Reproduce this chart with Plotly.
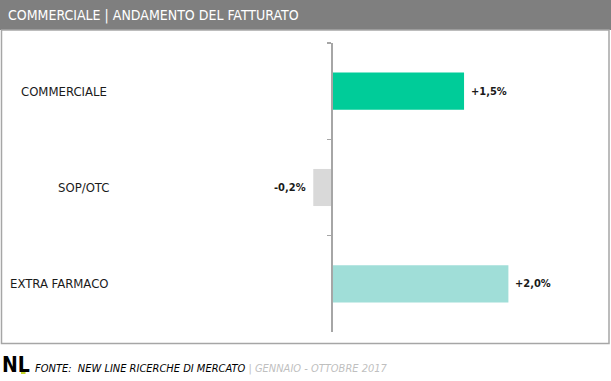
import plotly.graph_objects as go

categories = ["COMMERCIALE", "SOP/OTC", "EXTRA FARMACO"]
values = [1.5, -0.2, 2.0]
value_labels = ["+1,5%", "-0,2%", "+2,0%"]
title_text = "COMMERCIALE | ANDAMENTO DEL FATTURATO"
source_text = "FONTE:&nbsp; NEW LINE RICERCHE DI MERCATO"
period_text = "| GENNAIO - OTTOBRE 2017"

bar_colors = ["#00CC99", "#D9D9D9", "#A0DED8"]
label_left_px = [19, 56, 8]

W, H = 611, 381
FONT = "Liberation Sans Narrow, DejaVu Sans Condensed, Liberation Sans, sans-serif"


def px(x):
    return x / W


def py(y):
    return 1 - y / H


axis_px = 331
scale = 88.7  # px per unit
x_min = -axis_px / scale
x_max = (W - axis_px) / scale

fig = go.Figure()
fig.add_trace(go.Bar(
    y=categories, x=values, orientation="h",
    marker=dict(color=bar_colors, line=dict(width=0)),
    width=0.385, hoverinfo="skip",
))

shapes = [
    dict(type="rect", xref="paper", yref="paper", x0=0, x1=1, y0=py(30), y1=1,
         fillcolor="#7F7F7F", line=dict(width=0), layer="below"),
    dict(type="rect", xref="paper", yref="paper", x0=px(1.5), x1=px(609), y0=py(343.5), y1=py(30),
         fillcolor="rgba(0,0,0,0)", line=dict(color="#A6A6A6", width=1.5), layer="below"),
    dict(type="rect", xref="paper", yref="paper", x0=px(21), x1=px(25.5), y0=py(374), y1=py(369),
         fillcolor="#C5D52A", line=dict(width=0)),
]

annotations = [
    dict(text=title_text, xref="paper", yref="paper", x=px(6), y=py(15.5), xanchor="left", yanchor="middle",
         showarrow=False, font=dict(family=FONT, size=14, color="#FFFFFF")),
    dict(text="<b>NL</b>", xref="paper", yref="paper", x=px(0), y=py(365), xanchor="left", yanchor="middle",
         showarrow=False, font=dict(family=FONT, size=21, color="#000000")),
    dict(text="<i>" + source_text + "</i> <span style='color:#BFBFBF'><i>" + period_text + "</i></span>",
         xref="paper", yref="paper", x=px(33), y=py(368), xanchor="left", yanchor="middle",
         showarrow=False, font=dict(family=FONT, size=11, color="#000000")),
]

for cat, lp in zip(categories, label_left_px):
    annotations.append(dict(text=cat, xref="paper", yref="y", x=px(lp), y=cat, xanchor="left",
                            yanchor="middle", showarrow=False,
                            font=dict(family=FONT, size=13, color="#1A1A1A")))

for cat, v, lab in zip(categories, values, value_labels):
    annotations.append(dict(text="<b>" + lab + "</b>", xref="x", yref="y", x=v, y=cat,
                            xanchor="left" if v >= 0 else "right",
                            xshift=5 if v >= 0 else -5, yanchor="middle", showarrow=False,
                            font=dict(family=FONT, size=11, color="#1A1A1A")))

fig.update_layout(
    width=W, height=H, margin=dict(l=0, r=0, t=0, b=0),
    paper_bgcolor="white", plot_bgcolor="rgba(0,0,0,0)",
    showlegend=False, shapes=shapes, annotations=annotations,
    xaxis=dict(range=[x_min, x_max], domain=[0, 1], visible=False, fixedrange=True),
    yaxis=dict(categoryorder="array", categoryarray=categories, range=[2.5, -0.5],
               domain=[py(332), py(43)], anchor="free", position=px(axis_px),
               showline=True, linecolor="#A6A6A6", linewidth=1.5,
               ticks="outside", tickson="boundaries", ticklen=4, tickcolor="#A6A6A6", tickwidth=1.5,
               showticklabels=False, showgrid=False, zeroline=False, fixedrange=True),
)

fig.write_html("out.html", config={"staticPlot": True},
               post_script="document.body.style.margin='0';document.body.style.overflow='hidden';")
